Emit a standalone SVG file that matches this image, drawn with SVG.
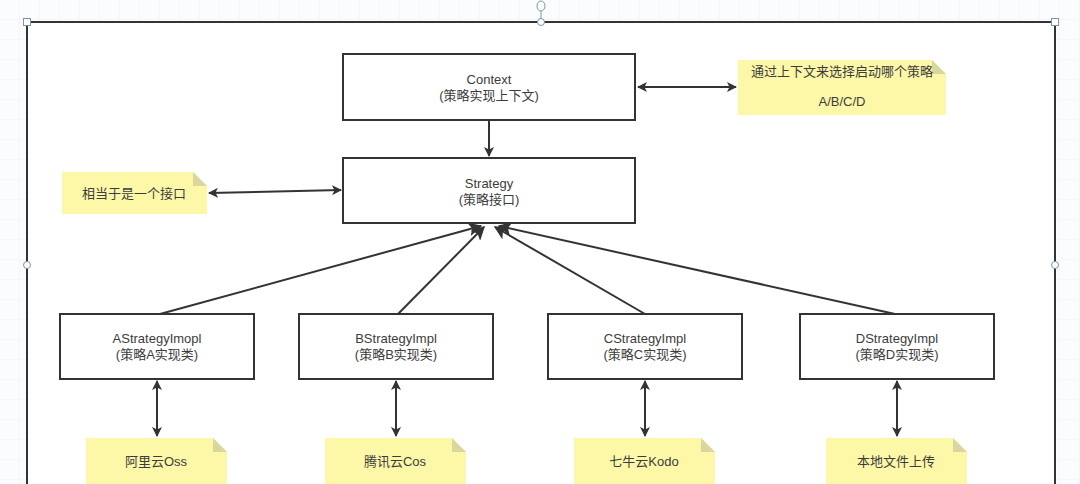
<svg xmlns="http://www.w3.org/2000/svg" width="1080" height="484" viewBox="0 0 1080 484">
<defs>
<pattern id="grid" width="20" height="20" patternUnits="userSpaceOnUse">
<path d="M20 0V20M0 20H20" fill="none" stroke="#eef1f4" stroke-width="1"/>
</pattern>
<marker id="ah" viewBox="0 0 10 10" refX="9" refY="5" markerWidth="10" markerHeight="10" markerUnits="userSpaceOnUse" orient="auto-start-reverse">
<path d="M0 0L10 5L0 10L2.5 5Z" fill="#333"/>
</marker>
<marker id="ahb" viewBox="0 0 10 10" refX="9" refY="5" markerWidth="14" markerHeight="14" markerUnits="userSpaceOnUse" orient="auto">
<path d="M0 0L10 5L0 10L2.5 5Z" fill="#333"/>
</marker>
</defs>
<style>
.box{fill:#fff;stroke:#333;stroke-width:2}
.note{fill:#fcf8a8}
.fold{fill:#d9d79e}
.t{font-family:"Liberation Sans","Noto Sans CJK SC",sans-serif;font-size:13px;fill:#3c3c3c;text-anchor:middle}
.c{fill:none;stroke:#333;stroke-width:2}
.handle{fill:#fff;stroke:#7a95ad;stroke-width:1}
</style>
<rect width="1080" height="484" fill="#fbfcfd"/>
<rect width="1080" height="484" fill="url(#grid)"/>
<rect x="27" y="22" width="1028" height="470" fill="#fff" stroke="#333" stroke-width="2"/>
<line x1="541" y1="10" x2="541" y2="22" stroke="#7a95ad"/>
<g id="handles">
<rect class="handle" x="23.5" y="18.5" width="7" height="7"/>
<rect class="handle" x="1051.5" y="18.5" width="7" height="7"/>
<ellipse class="handle" cx="541" cy="6" rx="4" ry="5"/>
<circle class="handle" cx="541" cy="22" r="3.5"/>
<circle class="handle" cx="27" cy="265" r="3.5"/>
<circle class="handle" cx="1055" cy="265" r="3.5"/>
</g>
<g id="connectors">
<line class="c" x1="638" y1="87" x2="736" y2="87" marker-start="url(#ah)" marker-end="url(#ah)"/>
<line class="c" x1="489" y1="121" x2="489" y2="156" marker-end="url(#ah)"/>
<line class="c" x1="209" y1="193" x2="341" y2="190" marker-start="url(#ah)" marker-end="url(#ah)"/>
<line class="c" x1="160" y1="314" x2="481" y2="226" marker-end="url(#ahb)"/>
<line class="c" x1="398" y1="314" x2="484" y2="227" marker-end="url(#ahb)"/>
<line class="c" x1="645" y1="314" x2="495" y2="227" marker-end="url(#ahb)"/>
<line class="c" x1="895" y1="314" x2="499" y2="226" marker-end="url(#ahb)"/>
<line class="c" x1="157" y1="381" x2="157" y2="436" marker-start="url(#ah)" marker-end="url(#ah)"/>
<line class="c" x1="396" y1="381" x2="396" y2="436" marker-start="url(#ah)" marker-end="url(#ah)"/>
<line class="c" x1="645" y1="381" x2="645" y2="436" marker-start="url(#ah)" marker-end="url(#ah)"/>
<line class="c" x1="897" y1="381" x2="897" y2="436" marker-start="url(#ah)" marker-end="url(#ah)"/>
</g>
<g id="context">
<rect class="box" x="343" y="54" width="292" height="66"/>
<text class="t" x="489" y="84">Context</text>
<text class="t" x="489" y="100">(策略实现上下文)</text>
</g>
<g id="strategy">
<rect class="box" x="343" y="158" width="292" height="65"/>
<text class="t" x="489" y="188">Strategy</text>
<text class="t" x="489" y="204">(策略接口)</text>
</g>
<g id="note-context">
<path class="note" d="M738 60H932L946 74V115H738Z"/>
<path class="fold" d="M932 60L946 74H932Z"/>
<text class="t" x="842" y="76">通过上下文来选择启动哪个策略</text>
<text class="t" x="842" y="106">A/B/C/D</text>
</g>
<g id="note-strategy">
<path class="note" d="M62 172H193L207 186V214H62Z"/>
<path class="fold" d="M193 172L207 186H193Z"/>
<text class="t" x="134" y="198">相当于是一个接口</text>
</g>
<g id="impl-a">
<rect class="box" x="60" y="314" width="194" height="65"/>
<text class="t" x="157" y="343">AStrategyImopl</text>
<text class="t" x="157" y="359">(策略A实现类)</text>
</g>
<g id="impl-b">
<rect class="box" x="299" y="314" width="194" height="65"/>
<text class="t" x="396" y="343">BStrategyImpl</text>
<text class="t" x="396" y="359">(策略B实现类)</text>
</g>
<g id="impl-c">
<rect class="box" x="548" y="314" width="194" height="65"/>
<text class="t" x="645" y="343">CStrategyImpl</text>
<text class="t" x="645" y="359">(策略C实现类)</text>
</g>
<g id="impl-d">
<rect class="box" x="800" y="314" width="194" height="65"/>
<text class="t" x="897" y="343">DStrategyImpl</text>
<text class="t" x="897" y="359">(策略D实现类)</text>
</g>
<g id="note-a">
<path class="note" d="M86 438H213L227 452V490H86Z"/>
<path class="fold" d="M213 438L227 452H213Z"/>
<text class="t" x="156" y="466">阿里云Oss</text>
</g>
<g id="note-b">
<path class="note" d="M325 438H452L466 452V490H325Z"/>
<path class="fold" d="M452 438L466 452H452Z"/>
<text class="t" x="395" y="466">腾讯云Cos</text>
</g>
<g id="note-c">
<path class="note" d="M574 438H701L715 452V490H574Z"/>
<path class="fold" d="M701 438L715 452H701Z"/>
<text class="t" x="644" y="466">七牛云Kodo</text>
</g>
<g id="note-d">
<path class="note" d="M826 438H953L967 452V490H826Z"/>
<path class="fold" d="M953 438L967 452H953Z"/>
<text class="t" x="896" y="466">本地文件上传</text>
</g>
</svg>
